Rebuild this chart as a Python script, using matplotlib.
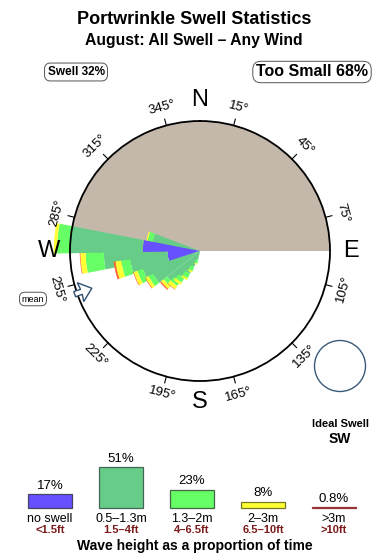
import numpy as np
import matplotlib
matplotlib.use("Agg")
import matplotlib.pyplot as plt
from matplotlib.patches import Circle

plt.rcParams['font.family'] = ['Liberation Sans', 'DejaVu Sans']

# ---------------- data ----------------
title = "Portwrinkle Swell Statistics"
subtitle = "August: All Swell \u2013 Any Wind"
swell_pct = "Swell 32%"
too_small_pct = "Too Small 68%"

# petal directions (deg, coming from) in drawing order, band lengths (fraction of circle radius)
petal_dirs = [285, 265, 275, 257, 246.5, 238, 226, 219, 216, 210, 206, 198]
band_blue = [0.00, 0.25, 0.44, 0.25, 0.00, 0.00, 0.00, 0.00, 0.00, 0.00, 0.00, 0.00]
band_teal = [0.37, 0.49, 0.56, 0.29, 0.46, 0.40, 0.32, 0.28, 0.24, 0.19, 0.13, 0.07]
band_green = [0.04, 0.14, 0.10, 0.07, 0.045, 0.04, 0.035, 0.04, 0.04, 0.04, 0.035, 0.03]
band_yellow = [0.01, 0.04, 0.025, 0.045, 0.03, 0.025, 0.025, 0.03, 0.02, 0.015, 0.012, 0.008]
band_red = [0.00, 0.005, 0.00, 0.015, 0.005, 0.005, 0.01, 0.004, 0.0, 0.0, 0.0, 0.0]
petal_width_deg = 12

tick_dirs = [15, 45, 75, 105, 135, 165, 195, 225, 255, 285, 315, 345]
compass = {"N": 0, "E": 90, "S": 180, "W": 270}
mean_dir = 251
ideal_dir = "SW"

leg_pct = [17, 51, 23, 8, 0.8]
leg_pct_lbl = ["17%", "51%", "23%", "8%", "0.8%"]
leg_m = ["no swell", "0.5\u20131.3m", "1.3\u20132m", "2\u20133m", ">3m"]
leg_ft = ["<1.5ft", "1.5\u20134ft", "4\u20136.5ft", "6.5\u201310ft", ">10ft"]

# ---------------- style ----------------
c_blue = "#6650ff"
c_teal = "#66cc88"
c_green = "#66ff66"
c_yellow = "#ffff33"
c_red = "#ff6633"
c_red_leg = "#993333"
c_tan = "#c4b8ab"
c_ft = "#7a1a1a"

fig = plt.figure(figsize=(3.9, 5.6), dpi=100)
fig.patch.set_facecolor("white")

# overlay axes in pixel coordinates for decorations
ov = fig.add_axes([0, 0, 1, 1])
ov.set_xlim(0, 390)
ov.set_ylim(560, 0)
ov.axis("off")

# polar rose: centre (200,251) px, radius 130 px
ax = fig.add_axes([70 / 390, (560 - 381) / 560, 260 / 390, 260 / 560], projection="polar")
ax.set_theta_zero_location("N")
ax.set_theta_direction(-1)
ax.set_ylim(0, 1)
ax.grid(False)
ax.set_xticks([])
ax.set_yticks([])
ax.patch.set_alpha(0)
ax.spines["polar"].set_linewidth(1.3)
ax.spines["polar"].set_color("black")

# tan half
ax.bar(0, 1, width=np.pi, bottom=0, color=c_tan, linewidth=0, zorder=0.5)

w = np.deg2rad(petal_width_deg)
bands = [(band_blue, c_blue), (band_teal, c_teal), (band_green, c_green),
         (band_yellow, c_yellow), (band_red, c_red)]
z = 2.0
for i, d in enumerate(petal_dirs):
    th = np.deg2rad(d)
    cum = 0.0
    for vals, col in bands:
        v = vals[i]
        if v > 0:
            ax.bar(th, v, width=w, bottom=cum, color=col, linewidth=0,
                   clip_on=False, zorder=z)
        cum += v
    z += 0.01

# ticks and degree labels
for d in tick_dirs:
    th = np.deg2rad(d)
    ax.plot([th, th], [1.0, 1.05], color="k", lw=0.8, clip_on=False, zorder=3)
    if d < 90 or d > 270:
        rot = -d
    else:
        rot = 180 - d
    ax.text(th, 1.14, f"{d}\u00b0", rotation=rot, rotation_mode="anchor",
            ha="center", va="center", fontsize=9.5, clip_on=False)

for lbl, d in compass.items():
    ax.text(np.deg2rad(d), 1.16, lbl, ha="center", va="center", fontsize=17,
            clip_on=False)

# mean direction arrow
a = mean_dir
arr_th = np.deg2rad([a, a - 4.5, a - 1.2, a - 1.2, a + 1.2, a + 1.2, a + 4.5, a])
arr_r = [0.88, 0.975, 0.965, 1.02, 1.02, 0.965, 0.975, 0.88]
ax.fill(arr_th, arr_r, facecolor="white", edgecolor="#2f4f6f", lw=1.0,
        clip_on=False, zorder=4)

# texts
ov.text(194, 19, title, ha="center", va="center", fontsize=13, fontweight="bold")
ov.text(194, 41, subtitle, ha="center", va="center", fontsize=11.3, fontweight="bold")
ov.text(76, 72, swell_pct, ha="center", va="center", fontsize=8.5, fontweight="bold",
        bbox=dict(boxstyle="round,pad=0.25,rounding_size=0.5", fc="white", ec="#555555", lw=0.7))
ov.text(312, 72, too_small_pct, ha="center", va="center", fontsize=11.5, fontweight="bold",
        bbox=dict(boxstyle="round,pad=0.2,rounding_size=0.5", fc="white", ec="#555555", lw=0.7))
ov.text(33, 299, "mean", ha="center", va="center", fontsize=6.5,
        bbox=dict(boxstyle="round,pad=0.25,rounding_size=0.6", fc="white", ec="#555555", lw=0.7))

ov.add_patch(Circle((340, 366), 25.5, fill=False, ec="#3a5a7a", lw=1.0))
ov.text(340, 424, "Ideal Swell", ha="center", va="center", fontsize=8, fontweight="bold")
ov.text(340, 439, ideal_dir, ha="center", va="center", fontsize=10, fontweight="bold")

# legend axes: px y 440..560 ; baseline at px 508, 0.8 px per %
lg = fig.add_axes([0, 0, 1, 120 / 560])
lg.set_xlim(-50 / 71, (390 - 50) / 71)
lg.set_ylim(-65, 85)
lg.axis("off")
xs = np.arange(len(leg_pct))
leg_cols = [c_blue, c_teal, c_green, c_yellow, c_red_leg]
leg_edges = ["#444466", "#446655", "#446644", "#777722", c_red_leg]
lg.bar(xs, leg_pct, width=0.63, bottom=0, color=leg_cols, edgecolor=leg_edges, lw=0.9)
for x, p, pl, m, ft in zip(xs, leg_pct, leg_pct_lbl, leg_m, leg_ft):
    lg.text(x, p + 10.5, pl, ha="center", va="center", fontsize=9.5)
    lg.text(x, -14, m, ha="center", va="center", fontsize=9)
    lg.text(x, -27.5, ft, ha="center", va="center", fontsize=8, fontweight="bold", color=c_ft)
lg.text((194.5 - 50) / 71, -47.5, "Wave height as a proportion of time", ha="center",
        va="center", fontsize=10, fontweight="bold")

fig.savefig("out.png", dpi=100)
